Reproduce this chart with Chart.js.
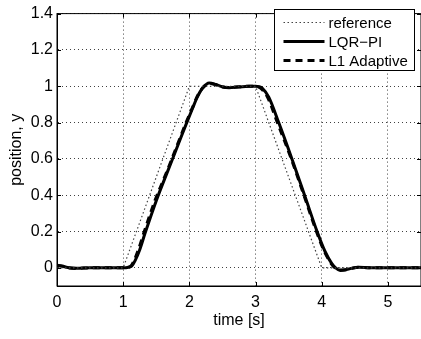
<!DOCTYPE html>
<html lang="en">
<head>
    <meta charset="UTF-8">
    <title>Position tracking</title>
    <script src="https://cdn.jsdelivr.net/npm/chart.js"></script>
    <style>
        html, body { margin: 0; padding: 0; background: #fff; }
        #wrap { width: 421px; height: 339px; }
    </style>
</head>
<body>
    <div id="wrap"><canvas id="posChart" width="421" height="339"></canvas></div>

    <script>
        // axis ticks
        const xTicks = [0, 1, 2, 3, 4, 5];
        const yTicks = [0, 0.2, 0.4, 0.6, 0.8, 1, 1.2, 1.4];

        // reference trajectory
        const refTime = [0, 1, 2, 3, 4, 5.5];
        const refPos  = [0, 0, 1, 1, 0, 0];

        // LQR-PI response
        const lqrTime = [0, 0.08, 0.16, 0.3, 0.5, 0.8, 1.0, 1.08, 1.13, 1.18, 1.25, 1.33, 1.5, 1.67, 1.8, 1.95, 2.05, 2.12, 2.2, 2.3, 2.4, 2.5, 2.6, 2.75, 2.9, 3.0, 3.05, 3.1, 3.2, 3.35, 3.55, 3.75, 3.93, 4.05, 4.15, 4.21, 4.28, 4.35, 4.45, 4.56, 4.7, 4.9, 5.2, 5.5];
        const lqrPos  = [0.015, 0.01, 0.002, -0.002, 0, 0, 0, 0.003, 0.01, 0.04, 0.1, 0.19, 0.37, 0.53, 0.65, 0.79, 0.88, 0.94, 0.99, 1.018, 1.01, 0.997, 0.992, 0.996, 1.0, 1.0, 0.998, 0.99, 0.94, 0.8, 0.6, 0.39, 0.2, 0.09, 0.025, 0.0, -0.014, -0.012, -0.003, 0.003, 0.001, 0, 0, 0];

        // L1 adaptive response
        const l1Time = [0, 0.08, 0.16, 0.3, 0.5, 0.8, 1.0, 1.07, 1.12, 1.17, 1.23, 1.31, 1.48, 1.66, 1.8, 1.95, 2.05, 2.12, 2.2, 2.3, 2.4, 2.5, 2.6, 2.75, 2.9, 3.0, 3.04, 3.09, 3.18, 3.33, 3.54, 3.74, 3.92, 4.04, 4.14, 4.2, 4.27, 4.35, 4.45, 4.56, 4.7, 4.9, 5.2, 5.5];
        const l1Pos   = [0.012, 0.008, 0.0, -0.003, 0, 0, 0, 0.004, 0.012, 0.045, 0.1, 0.19, 0.37, 0.53, 0.66, 0.8, 0.885, 0.945, 0.99, 1.015, 1.008, 0.996, 0.993, 0.997, 1.0, 1.0, 0.997, 0.985, 0.94, 0.8, 0.6, 0.39, 0.2, 0.09, 0.025, 0.0, -0.012, -0.011, -0.002, 0.003, 0.001, 0, 0, 0];

        const pts = (xs, ys) => xs.map((x, i) => ({ x: x, y: ys[i] }));

        const FONT = 'Liberation Sans, Arial, Helvetica, sans-serif';

        // box around the axes, inward tick marks and the legend
        const framePlugin = {
            id: 'frame',
            afterDraw(chart) {
                const ctx = chart.ctx;
                const a = chart.chartArea;
                const xs = chart.scales.x, ys = chart.scales.y;
                ctx.save();
                ctx.strokeStyle = '#000';
                ctx.lineWidth = 1;
                ctx.setLineDash([]);
                ctx.strokeRect(a.left, a.top, a.right - a.left, a.bottom - a.top);

                ctx.beginPath();
                xTicks.forEach(v => {
                    const px = Math.round(xs.getPixelForValue(v)) + 0.5;
                    ctx.moveTo(px, a.bottom); ctx.lineTo(px, a.bottom - 4);
                    ctx.moveTo(px, a.top); ctx.lineTo(px, a.top + 4);
                });
                yTicks.forEach(v => {
                    const py = Math.round(ys.getPixelForValue(v)) + 0.5;
                    ctx.moveTo(a.left, py); ctx.lineTo(a.left + 4, py);
                    ctx.moveTo(a.right, py); ctx.lineTo(a.right - 4, py);
                });
                ctx.stroke();

                // legend
                const lx = 274.5, ly = 9.5, lw = 140, lh = 61;
                ctx.fillStyle = '#fff';
                ctx.fillRect(lx, ly, lw, lh);
                ctx.strokeRect(lx, ly, lw, lh);
                ctx.font = '15px ' + FONT;
                ctx.textBaseline = 'middle';
                ctx.textAlign = 'left';
                chart.data.datasets.forEach((ds, i) => {
                    const cy = ly + 13 + i * 19;
                    ctx.beginPath();
                    ctx.strokeStyle = ds.borderColor;
                    ctx.lineWidth = ds.borderWidth;
                    ctx.setLineDash(ds.borderDash || []);
                    ctx.moveTo(lx + 9, cy);
                    ctx.lineTo(lx + 50, cy);
                    ctx.stroke();
                    ctx.setLineDash([]);
                    ctx.fillStyle = '#000';
                    ctx.fillText(ds.label, lx + 54, cy + 1);
                });
                ctx.restore();
            }
        };

        const ctx = document.getElementById('posChart').getContext('2d');
        new Chart(ctx, {
            type: 'line',
            data: {
                datasets: [{
                    label: 'reference',
                    data: pts(refTime, refPos),
                    borderColor: '#444',
                    borderWidth: 1.2,
                    borderDash: [1.5, 2.5],
                    pointRadius: 0,
                    tension: 0
                }, {
                    label: 'LQR\u2212PI',
                    data: pts(lqrTime, lqrPos),
                    borderColor: '#000',
                    borderWidth: 3,
                    pointRadius: 0,
                    cubicInterpolationMode: 'monotone'
                }, {
                    label: 'L1 Adaptive',
                    data: pts(l1Time, l1Pos),
                    borderColor: '#000',
                    borderWidth: 3,
                    borderDash: [7, 5],
                    pointRadius: 0,
                    cubicInterpolationMode: 'monotone'
                }]
            },
            options: {
                responsive: false,
                animation: false,
                layout: { padding: { top: 5, right: 0, left: 7, bottom: 0 } },
                plugins: {
                    legend: { display: false },
                    tooltip: { enabled: false }
                },
                scales: {
                    x: {
                        type: 'linear',
                        min: 0,
                        max: 5.5,
                        afterBuildTicks: s => { s.ticks = xTicks.map(v => ({ value: v })); },
                        afterFit: s => { s.height = 53; },
                        grid: { color: 'rgba(0,0,0,0.75)', lineWidth: 1, drawTicks: false },
                        border: { display: true, color: '#000', width: 1, dash: [1, 3] },
                        ticks: {
                            color: '#000',
                            padding: 7,
                            maxRotation: 0,
                            font: { family: FONT, size: 16 },
                            callback: v => String(v)
                        },
                        title: {
                            display: true,
                            text: 'time [s]',
                            color: '#000',
                            font: { family: FONT, size: 16 },
                            padding: { top: 2, bottom: 9 }
                        }
                    },
                    y: {
                        type: 'linear',
                        min: -0.1,
                        max: 1.4,
                        afterBuildTicks: s => { s.ticks = yTicks.map(v => ({ value: v })); },
                        afterFit: s => { s.width = 50; },
                        grid: { color: 'rgba(0,0,0,0.75)', lineWidth: 1, drawTicks: false },
                        border: { display: true, color: '#000', width: 1, dash: [1, 3] },
                        ticks: {
                            color: '#000',
                            padding: 4,
                            font: { family: FONT, size: 16 },
                            callback: v => String(Math.round(v * 10) / 10)
                        },
                        title: {
                            display: true,
                            text: 'position, y',
                            color: '#000',
                            font: { family: FONT, size: 16 },
                            padding: { top: 0, bottom: 0 }
                        }
                    }
                }
            },
            plugins: [framePlugin]
        });
    </script>
</body>
</html>
